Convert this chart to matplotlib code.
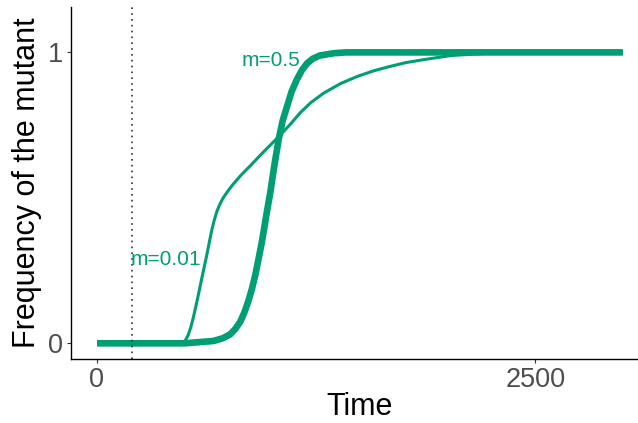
import numpy as np
import matplotlib as mpl
mpl.use('Agg')
import matplotlib.pyplot as plt

plt.rcParams['font.family'] = ['Liberation Sans', 'DejaVu Sans']

# m = 0.5 (thick curve)
t_fast = [0, 500, 665, 720, 760, 790, 817, 840, 865, 885, 903, 920, 941, 955,
          970, 989, 1010, 1036, 1060, 1084, 1110, 1141, 1170, 1198, 1230, 1270,
          1349, 1420, 2000, 3000]
f_fast = [0, 0, 0.008, 0.018, 0.031, 0.05, 0.074, 0.105, 0.148, 0.19, 0.235,
          0.285, 0.35, 0.4, 0.455, 0.52, 0.605, 0.70, 0.767, 0.814, 0.865,
          0.908, 0.94, 0.962, 0.978, 0.989, 0.997, 1, 1, 1]

# m = 0.01 (thin curve)
t_slow = [0, 480, 504, 520, 535, 550, 565, 580, 595, 610, 625, 640, 655, 670,
          685, 700, 720, 745, 770, 820, 874, 950, 1036, 1103, 1160, 1217, 1293,
          1390, 1483, 1580, 1673, 1763, 1863, 2015, 2200, 2500, 3000]
f_slow = [0, 0, 0.01, 0.028, 0.055, 0.09, 0.13, 0.172, 0.215, 0.258, 0.3,
          0.345, 0.39, 0.426, 0.455, 0.477, 0.5, 0.522, 0.542, 0.577, 0.61,
          0.658, 0.71, 0.753, 0.793, 0.826, 0.860, 0.893, 0.917, 0.937, 0.952,
          0.965, 0.975, 0.989, 0.996, 1, 1]

t_intro = 200
labels = ['m=0.5', 'm=0.01']
label_pos = [(995, 0.952), (394, 0.269)]

green = '#009E73'
W, H = 638, 423
fig = plt.figure(figsize=(W / 100, H / 100), dpi=100)
# panel in pixels: left 70.7, right 649.2 (cropped), top 7.3, bottom 359.3
ax = fig.add_axes([70.7 / W, (H - 359.3) / H, (649.2 - 70.7) / W, (359.3 - 7.3) / H])

ax.plot(t_slow, f_slow, color=green, lw=2.2, solid_capstyle='butt', solid_joinstyle='round')
ax.plot(t_fast, f_fast, color=green, lw=4.8, solid_capstyle='butt', solid_joinstyle='round')
ax.axvline(t_intro, color='#333333', ls=(0, (1, 2.5)), lw=1.2)

for lab, (x, y) in zip(labels, label_pos):
    ax.text(x, y, lab, color=green, fontsize=15, ha='center', va='baseline')

ax.set_xlim(-150, 3150)
ax.set_ylim(-0.055, 1.155)
ax.set_xticks([0, 2500])
ax.set_yticks([0, 1])
ax.tick_params(length=2.9, width=0.8, color='#333333', labelcolor='#4D4D4D',
               labelsize=19.5, pad=2.7)
for s in ['top', 'right']:
    ax.spines[s].set_visible(False)
for s in ['left', 'bottom']:
    ax.spines[s].set_linewidth(1.0)
    ax.spines[s].set_color('black')

fig.text(360 / W, 1 - 407 / H, 'Time', fontsize=22, ha='center', va='center')
fig.text(27.5 / W, 1 - 183 / H, 'Frequency of the mutant', fontsize=22,
         rotation=90, ha='center', va='center')

plt.savefig('out.png', dpi=100)
